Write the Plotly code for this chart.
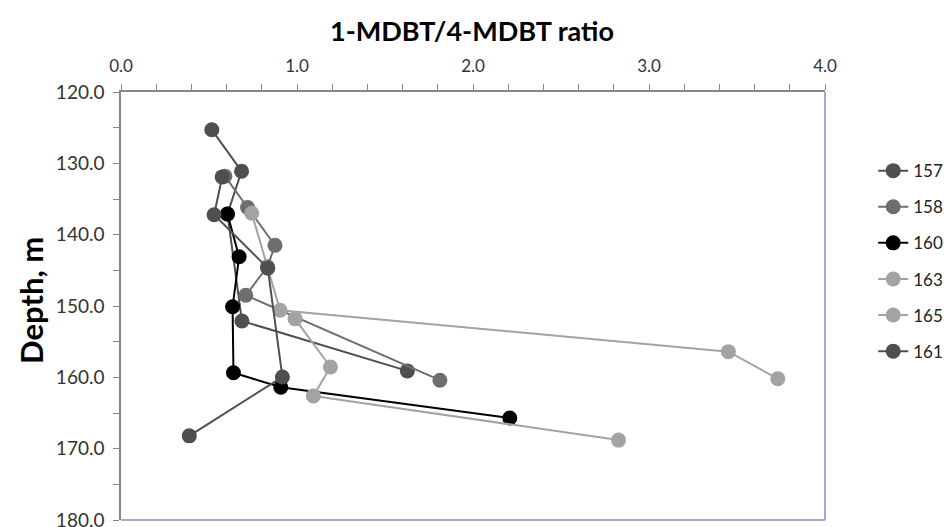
import plotly.graph_objects as go

# ---- data ----
series_names = ["157", "158", "160", "163", "165", "161"]

x_157 = [0.516, 0.685, 0.605, 0.687, 1.627]
y_157 = [125.3, 131.1, 137.1, 152.1, 159.1]

x_158 = [0.590, 0.719, 0.875, 0.832, 0.709, 1.812]
y_158 = [131.8, 136.2, 141.5, 144.5, 148.5, 160.4]

x_160 = [0.605, 0.671, 0.634, 0.639, 0.908, 2.209]
y_160 = [137.1, 143.1, 150.1, 159.35, 161.4, 165.7]

x_163 = [0.743, 0.904, 3.451, 3.732]
y_163 = [137.0, 150.6, 156.4, 160.2]

x_165 = [0.989, 1.190, 1.093, 2.827]
y_165 = [151.8, 158.55, 162.6, 168.8]

x_161 = [0.575, 0.529, 0.834, 0.917, 0.388]
y_161 = [131.9, 137.2, 144.7, 159.95, 168.2]

x_values = [x_157, x_158, x_160, x_163, x_165, x_161]
y_values = [y_157, y_158, y_160, y_163, y_165, y_161]

colors = ["#4f4f4f", "#6e6e6e", "#000000", "#a3a3a3", "#a3a3a3", "#4f4f4f"]

FONT = "Lato"

fig = go.Figure()
for i, (name, xs, ys, c) in enumerate(zip(series_names, x_values, y_values, colors)):
    fig.add_trace(go.Scatter(
        x=xs, y=ys, name=name, mode="lines+markers",
        line=dict(color=c, width=2),
        marker=dict(color=c, size=15),
        legendgroup=name,
    ))

fig.update_xaxes(
    side="top", range=[0, 4], dtick=1, tick0=0, tickformat=".1f",
    ticks="outside", ticklen=6, tickcolor="#868686", tickwidth=1,
    minor=dict(dtick=0.2, ticks="outside", ticklen=6, tickcolor="#868686"),
    showline=True, linecolor="#868686", linewidth=1.5,
    showgrid=False, zeroline=False,
    tickfont=dict(family=FONT, size=17, color="#333333"),
    ticklabelstandoff=5,
)
fig.update_yaxes(
    range=[180.0001, 120], dtick=10, tick0=120, tickformat=".1f",
    ticks="outside", ticklen=6, tickcolor="#868686", tickwidth=1,
    minor=dict(dtick=5, ticks="outside", ticklen=6, tickcolor="#868686"),
    showline=True, linecolor="#868686", linewidth=1.5,
    showgrid=False, zeroline=False,
    tickfont=dict(family=FONT, size=19, color="#333333"),
    ticklabelstandoff=5, ticklabeloverflow="allow",
)

# right and bottom plot-area border
fig.add_shape(type="line", xref="paper", yref="paper", x0=1, x1=1, y0=0, y1=1,
              line=dict(color="#7f8fc0", width=1.5))
fig.add_shape(type="line", xref="paper", yref="paper", x0=0, x1=1, y0=0, y1=0,
              line=dict(color="#7f8fc0", width=1.5))

fig.add_annotation(text="<b>Depth, m</b>", xref="paper", yref="paper",
                   x=-0.128, y=0.514, xanchor="center", yanchor="middle",
                   textangle=-90, showarrow=False,
                   font=dict(family=FONT, size=31, color="#000000"))

fig.update_layout(
    width=944, height=527,
    margin=dict(l=121, r=119, t=92, b=7, autoexpand=False),
    paper_bgcolor="white", plot_bgcolor="white",
    title=dict(text="<b>1-MDBT/4-MDBT ratio</b>", x=0.5, xanchor="center",
               y=0.94, yanchor="middle", yref="container",
               font=dict(family=FONT, size=27, color="#000000")),
    showlegend=True,
    legend=dict(xref="container", yref="container", x=0.925, xanchor="left",
                y=0.7095, yanchor="top",
                font=dict(family=FONT, size=17, color="#222222"),
                tracegroupgap=11, itemwidth=30, bgcolor="rgba(0,0,0,0)"),
)

fig.write_html("out.html", config={"displayModeBar": False},
               post_script="document.body.style.margin='0';document.body.style.overflow='hidden';")
